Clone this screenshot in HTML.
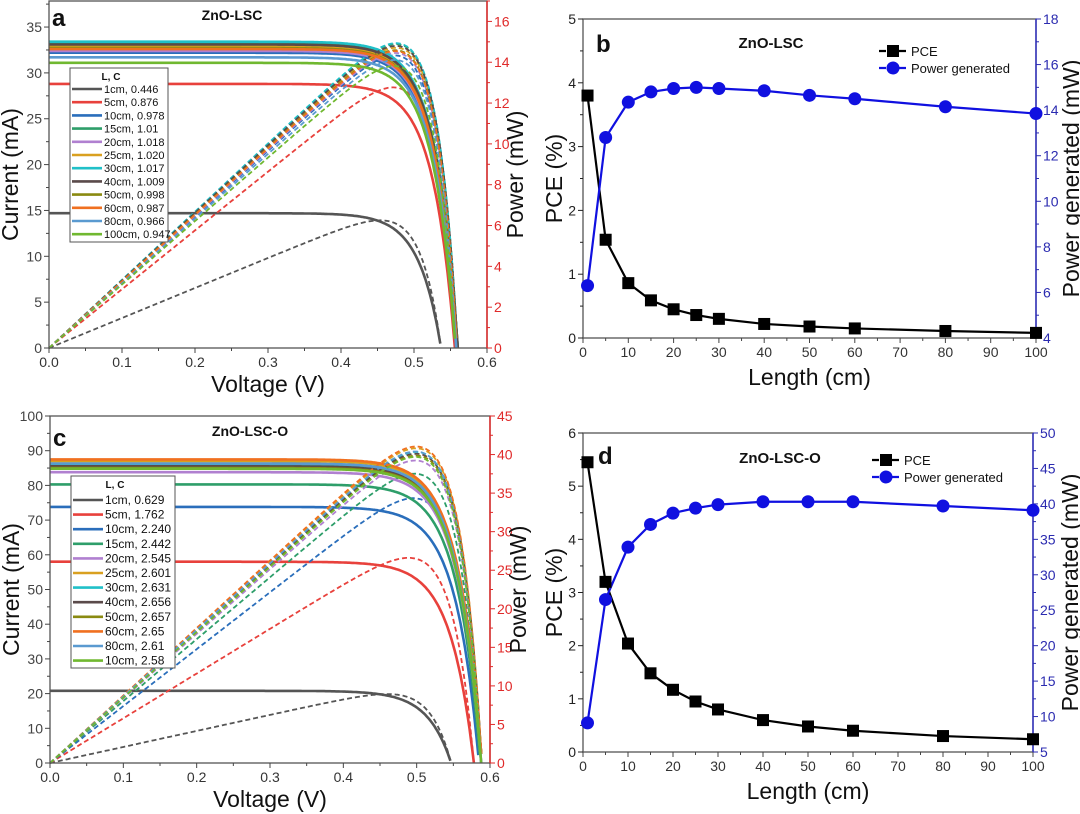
<!DOCTYPE html>
<html><head><meta charset="utf-8">
<style>
body{margin:0;background:#fff;}
svg{display:block;font-family:"Liberation Sans",Arial,sans-serif;}
</style></head>
<body>
<svg id="fig" width="1080" height="814" viewBox="0 0 1080 814" xmlns="http://www.w3.org/2000/svg"></svg>
<script>
// ---------- DATA ----------
const lenB = [1,5,10,15,20,25,30,40,50,60,80,100];
const pceB = [3.8,1.54,0.86,0.59,0.45,0.36,0.30,0.22,0.18,0.15,0.11,0.08];
const powB = [6.3,12.8,14.35,14.8,14.95,15.0,14.95,14.85,14.65,14.5,14.15,13.85];
const lenD = [1,5,10,15,20,25,30,40,50,60,80,100];
const pceD = [5.45,3.2,2.04,1.48,1.17,0.95,0.8,0.6,0.48,0.4,0.3,0.24];
const powD = [9.1,26.5,33.9,37.1,38.7,39.4,39.9,40.3,40.3,40.3,39.7,39.1];

const labelsA = ["1cm, 0.446","5cm, 0.876","10cm, 0.978","15cm, 1.01","20cm, 1.018","25cm, 1.020","30cm, 1.017","40cm, 1.009","50cm, 0.998","60cm, 0.987","80cm, 0.966","100cm, 0.947"];
const iscA = [14.7,28.8,32.2,33.3,32.4,32.9,33.4,33.1,32.7,32.6,31.7,31.1];
const vocA = [0.537,0.556,0.558,0.56,0.559,0.56,0.56,0.56,0.559,0.559,0.558,0.557];
const labelsC = ["1cm, 0.629","5cm, 1.762","10cm, 2.240","15cm, 2.442","20cm, 2.545","25cm, 2.601","30cm, 2.631","40cm, 2.656","50cm, 2.657","60cm, 2.65","80cm, 2.61","10cm, 2.58"];
const iscC = [20.8,58,73.8,80.3,83.8,87,86,85.5,85,87.5,86.3,84.8];
const vocC = [0.547,0.578,0.585,0.587,0.588,0.589,0.589,0.589,0.589,0.589,0.588,0.588];
const colors = ["#555555","#e8413c","#2a6ebb","#2e9e6a","#b080d0","#d9a020","#20c0c8","#5a4a4a","#8a8a10","#f07020","#5a9ad0","#70b830"];

const svg = document.getElementById('fig');
const NS = "http://www.w3.org/2000/svg";
function mk(tag, attrs, parent, text){
  const e = document.createElementNS(NS, tag);
  for (const k in attrs) e.setAttribute(k, attrs[k]);
  if (text !== undefined) e.textContent = text;
  (parent || svg).appendChild(e);
  return e;
}
function lin(d0,d1,r0,r1){ return v => r0 + (v-d0)/(d1-d0)*(r1-r0); }

function frame(g, x0, x1, yT, yB, rightColor){
  const f = mk('rect',{x:x0,y:yT,width:x1-x0,height:yB-yT,fill:'none',stroke:'#555','stroke-width':1.3},g);
  
  
  const r = mk('line',{x1:x1,y1:yT,x2:x1,y2:yB,stroke:rightColor,'stroke-width':1.5},g);
  
  
}
function xTicks(g, sx, vals, fmt, yB, minorVals){
  vals.forEach(v=>{
    mk('line',{x1:sx(v),y1:yB,x2:sx(v),y2:yB+5,stroke:'#444','stroke-width':1},g);
    const t = mk('text',{x:sx(v),y:yB+19,'font-size':14,'text-anchor':'middle',fill:'#333'},g,fmt(v));
    
    
  });
  minorVals.forEach(v=>mk('line',{x1:sx(v),y1:yB,x2:sx(v),y2:yB+3,stroke:'#444','stroke-width':1},g));
}
function yTicks(g, sy, vals, x, side, color, minorVals, fmt){
  const d = side==='left' ? -5 : 5;
  vals.forEach(v=>{
    mk('line',{x1:x,y1:sy(v),x2:x+d,y2:sy(v),stroke:color,'stroke-width':1},g);
    const t = mk('text',{x: side==='left'? x-7 : x+7, y:sy(v)+5,'font-size':14,'text-anchor': side==='left'?'end':'start',fill:color},g,fmt?fmt(v):String(v));
    
    
  });
  minorVals.forEach(v=>mk('line',{x1:x,y1:sy(v),x2:x+d*0.6,y2:sy(v),stroke:color,'stroke-width':1},g));
}
function rotText(g, x, y, txt, size, name){
  const t = mk('text',{x:x,y:y,'font-size':size,'text-anchor':'middle',transform:`rotate(-90 ${x} ${y})`,fill:'#111'},g,txt);
  
  
}
function txt(g,x,y,s,size,name,extra){
  const a = Object.assign({x:x,y:y,'font-size':size,fill:'#111'},extra||{});
  const t = mk('text',a,g,s);
  
  
  return t;
}
function range(a,b,s){const r=[];for(let v=a;v<=b+1e-9;v+=s)r.push(+v.toFixed(6));return r;}

// ---------- IV panels ----------
function ivPanel(cfg){
  const g = mk('g',{});
  
  
  const sx = lin(0,0.6,cfg.x0,cfg.x1);
  const sy = lin(0,cfg.iMax,cfg.yB,cfg.yT);
  const sp = lin(0,cfg.pMax,cfg.yB,cfg.yT);
  cfg.isc.forEach((isc,i)=>{
    const voc = cfg.voc[i];
    let pI='', pP='';
    for(let v=0; v<=voc+0.0005; v+=0.002){
      const I = Math.max(0, isc*(1-Math.exp((v-voc)/cfg.a)));
      pI += (pI?'L':'M')+sx(v).toFixed(1)+','+sy(I).toFixed(1);
      pP += (pP?'L':'M')+sx(v).toFixed(1)+','+sp(v*I).toFixed(1);
    }
    const l1 = mk('path',{d:pI,fill:'none',stroke:colors[i],'stroke-width':2.6},g);
    
    
    const l2 = mk('path',{d:pP,fill:'none',stroke:colors[i],'stroke-width':1.8,'stroke-dasharray':'5,3'},g);
    
    
  });
  frame(g,cfg.x0,cfg.x1,cfg.yT,cfg.yB,cfg.red);
  xTicks(g,sx,range(0,0.6,0.1),v=>v.toFixed(1),cfg.yB,range(0.05,0.55,0.1));
  yTicks(g,sy,cfg.iTicks,cfg.x0,'left','#444',cfg.iMinor);
  yTicks(g,sp,cfg.pTicks,cfg.x1,'right',cfg.red,cfg.pMinor);
  txt(g,(cfg.x0+cfg.x1)/2,cfg.yB+44,'Voltage (V)',23,'x-axis-title',{'text-anchor':'middle'});
  rotText(g,cfg.x0-31,(cfg.yT+cfg.yB)/2,'Current (mA)',23,'y-axis-title');
  rotText(g,cfg.x1+cfg.rOff,(cfg.yT+cfg.yB)/2,'Power (mW)',23,'y2-axis-title');
  txt(g,cfg.lx,cfg.ly,cfg.letter,24,'panel-letter',{'font-weight':'bold'});
  txt(g,cfg.tx,cfg.ty,cfg.title,14,'panel-title',{'font-weight':'bold','text-anchor':'middle'});
  const L = cfg.leg;
  const lg = mk('g',{},g);
  
  
  mk('rect',{x:L.x,y:L.y,width:L.w,height:L.h,fill:'#fff',stroke:'#555','stroke-width':1},lg);
  txt(lg,L.x+L.w/2-8,L.y+12,'L, C',10,'legend-header',{'font-weight':'bold','text-anchor':'middle'});
  cfg.labels.forEach((s,i)=>{
    const y = L.y0 + i*L.dy;
    const ln = mk('line',{x1:L.x+2,y1:y,x2:L.x+32,y2:y,stroke:colors[i],'stroke-width':2.6},lg);
    
    
    txt(lg,L.x+34,y+4,s,L.fs,'legend-entry');
  });
}

ivPanel({name:'panel-a',x0:49,x1:487,yT:1,yB:348,iMax:37.84,pMax:17,a:0.03,isc:iscA,voc:vocA,labels:labelsA,
  iTicks:range(0,35,5),iMinor:range(2.5,37.5,5),pTicks:range(0,16,2),pMinor:range(1,17,2),red:'#e02a2a',rOff:36,
  lx:52,ly:26,letter:'a',tx:232,ty:20,title:'ZnO-LSC',
  leg:{x:70,y:68,w:98,h:174,y0:89,dy:13.2,fs:11}});
ivPanel({name:'panel-c',x0:50,x1:490,yT:416,yB:763,iMax:100,pMax:45,a:0.032,isc:iscC,voc:vocC,labels:labelsC,
  iTicks:range(0,100,10),iMinor:range(5,95,10),pTicks:range(0,45,5),pMinor:range(2.5,42.5,5),red:'#e02a2a',rOff:36,
  lx:53,ly:446,letter:'c',tx:250,ty:436,title:'ZnO-LSC-O',
  leg:{x:71,y:476,w:104,h:192,y0:500,dy:14.6,fs:12}});

// ---------- PCE panels ----------
function pcePanel(cfg){
  const g = mk('g',{});
  
  
  const sx = lin(0,100,cfg.x0,cfg.x1);
  const sy = lin(0,cfg.pceMax,cfg.yB,cfg.yT);
  const sp = lin(cfg.pMin,cfg.pMax,cfg.yB,cfg.yT);
  frame(g,cfg.x0,cfg.x1,cfg.yT,cfg.yB,'#3030c0');
  xTicks(g,sx,range(0,100,10),v=>String(v),cfg.yB,range(5,95,10));
  yTicks(g,sy,range(0,cfg.pceMax,1),cfg.x0,'left','#222',range(0.5,cfg.pceMax-0.5,1));
  yTicks(g,sp,cfg.pTicks,cfg.x1,'right','#2b2bb0',cfg.pMinor);
  const dPce = cfg.len.map((v,i)=>(i?'L':'M')+sx(v)+','+sy(cfg.pce[i])).join('');
  const dPow = cfg.len.map((v,i)=>(i?'L':'M')+sx(v)+','+sp(cfg.pow[i])).join('');
  const lp = mk('path',{d:dPce,fill:'none',stroke:'#000','stroke-width':2.2},g);
  
  
  const lw = mk('path',{d:dPow,fill:'none',stroke:'#1010e0','stroke-width':2.2},g);
  
  
  cfg.len.forEach((v,i)=>{
    const m = mk('rect',{x:sx(v)-6,y:sy(cfg.pce[i])-6,width:12,height:12,fill:'#000'},g);
    
    
  });
  cfg.len.forEach((v,i)=>{
    const c = mk('circle',{cx:sx(v),cy:sp(cfg.pow[i]),r:6.5,fill:'#1010e0'},g);
    
    
  });
  txt(g,(cfg.x0+cfg.x1)/2,cfg.yB+47,'Length (cm)',23,'x-axis-title',{'text-anchor':'middle'});
  rotText(g,cfg.x0-21,(cfg.yT+cfg.yB)/2,'PCE (%)',23,'y-axis-title');
  rotText(g,cfg.x1+cfg.rOff,(cfg.yT+cfg.yB)/2,'Power generated (mW)',23,'y2-axis-title');
  txt(g,cfg.lx,cfg.ly,cfg.letter,24,'panel-letter',{'font-weight':'bold'});
  txt(g,cfg.tx,cfg.ty,cfg.title,15,'panel-title',{'font-weight':'bold','text-anchor':'middle'});
  const lg = mk('g',{},g);
  
  
  const L = cfg.leg;
  mk('line',{x1:L.x,y1:L.y,x2:L.x+28,y2:L.y,stroke:'#000','stroke-width':2.2,'stroke-dasharray':'7,3'},lg);
  mk('rect',{x:L.x+8,y:L.y-6,width:12,height:12,fill:'#000'},lg);
  txt(lg,L.x+32,L.y+5,'PCE',13,'legend-entry');
  mk('line',{x1:L.x,y1:L.y+17,x2:L.x+28,y2:L.y+17,stroke:'#1010e0','stroke-width':2.2,'stroke-dasharray':'7,3'},lg);
  mk('circle',{cx:L.x+14,cy:L.y+17,r:6.5,fill:'#1010e0'},lg);
  txt(lg,L.x+32,L.y+22,'Power generated',13,'legend-entry');
}
pcePanel({name:'panel-b',x0:583,x1:1036,yT:19,yB:338,pceMax:5,pMin:4,pMax:18,len:lenB,pce:pceB,pow:powB,rOff:43,
  pTicks:range(4,18,2),pMinor:range(5,17,2),lx:596,ly:52,letter:'b',tx:771,ty:48,title:'ZnO-LSC',leg:{x:879,y:51}});
pcePanel({name:'panel-d',x0:583,x1:1033,yT:433,yB:752,pceMax:6,pMin:5,pMax:50,len:lenD,pce:pceD,pow:powD,rOff:45,
  pTicks:range(5,50,5),pMinor:range(7.5,47.5,5),lx:598,ly:464,letter:'d',tx:780,ty:463,title:'ZnO-LSC-O',leg:{x:872,y:460}});
</script>
</body></html>
